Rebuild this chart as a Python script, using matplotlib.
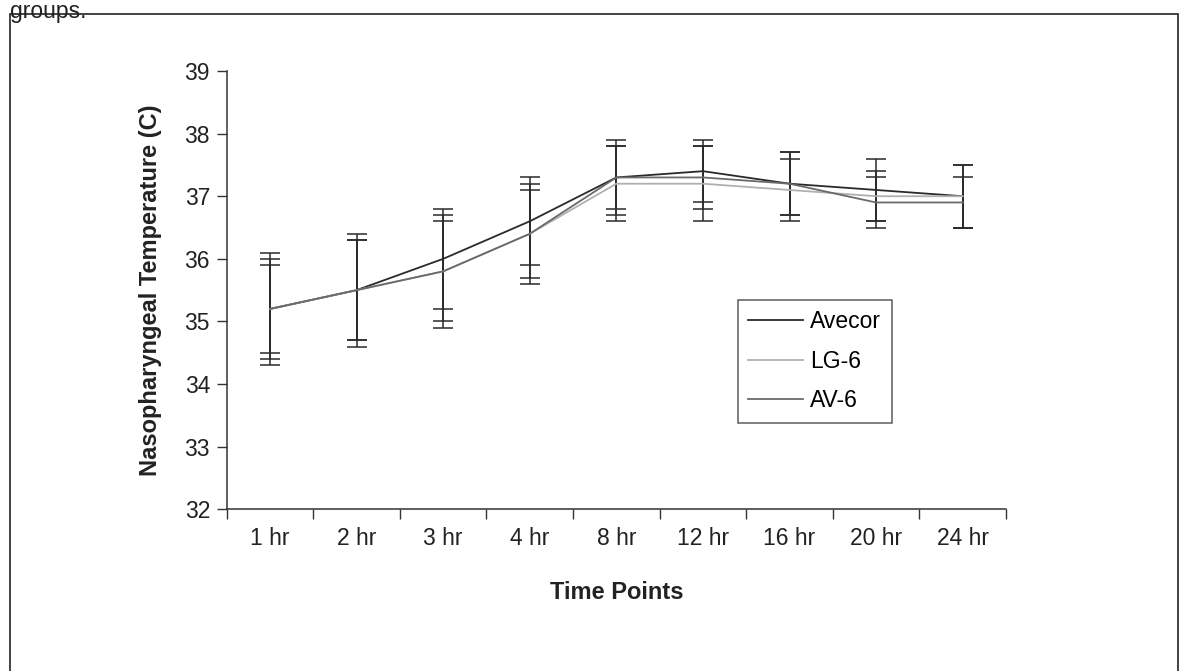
import numpy as np
import matplotlib.pyplot as plt
from matplotlib.patches import Rectangle

plt.rcParams['font.family'] = ['Liberation Sans', 'DejaVu Sans']

time_points = ['1 hr', '2 hr', '3 hr', '4 hr', '8 hr', '12 hr', '16 hr', '20 hr', '24 hr']

avecor = [35.2, 35.5, 36.0, 36.6, 37.3, 37.4, 37.2, 37.1, 37.0]
avecor_sd = [0.9, 0.9, 0.8, 0.7, 0.6, 0.5, 0.5, 0.5, 0.5]

lg6 = [35.2, 35.5, 35.8, 36.4, 37.2, 37.2, 37.1, 37.0, 37.0]
lg6_sd = [0.8, 0.8, 0.9, 0.8, 0.6, 0.6, 0.5, 0.4, 0.5]

av6 = [35.2, 35.5, 35.8, 36.4, 37.3, 37.3, 37.2, 36.9, 36.9]
av6_sd = [0.7, 0.8, 0.8, 0.7, 0.5, 0.5, 0.5, 0.4, 0.4]

W, H = 1180, 671
fig = plt.figure(figsize=(W / 100, H / 100), dpi=100)
ax = fig.add_axes([226.7 / W, 1 - 509.3 / H, (1006 - 226.7) / W, (509.3 - 71) / H])

# outer frame of the scanned page figure
fig.patches.append(Rectangle((10 / W, -0.05), 1168 / W, 1.05 - 14 / H,
                             transform=fig.transFigure, fill=False,
                             edgecolor='#222222', linewidth=1.2))
fig.text(10 / W, 1.0, 'groups.', fontsize=16.5, color='#222222',
         ha='left', va='top')

x = np.arange(len(time_points))
series = [('Avecor', avecor, avecor_sd, '#2a2a2a'),
          ('LG-6', lg6, lg6_sd, '#b0b0b0'),
          ('AV-6', av6, av6_sd, '#6a6a6a')]

for name, vals, sd, col in series:
    ax.errorbar(x, vals, yerr=sd, fmt='none', ecolor='#2a2a2a',
                elinewidth=1.1, capsize=7, capthick=1.1)
for name, vals, sd, col in series:
    ax.plot(x, vals, color=col, linewidth=1.3, label=name)

ax.set_xlim(-0.5, len(time_points) - 0.5)
ax.set_ylim(32, 39)
ax.set_yticks(range(32, 40))
ax.set_xticks(x)
ax.set_xticklabels(time_points)
ax.set_xticks(np.arange(-0.5, len(time_points)), minor=True)
ax.tick_params(axis='x', which='major', length=0, pad=13, labelsize=16.5,
               labelcolor='#222222')
ax.tick_params(axis='x', which='minor', length=7, width=1, color='#333333')
ax.tick_params(axis='y', length=7, width=1, color='#333333', labelsize=16.5,
               labelcolor='#222222', pad=5)

for side in ['top', 'right']:
    ax.spines[side].set_visible(False)
for side in ['left', 'bottom']:
    ax.spines[side].set_color('#333333')
    ax.spines[side].set_linewidth(1.1)

ax.set_ylabel('Nasopharyngeal Temperature (C)', fontsize=17, fontweight='bold',
              color='#222222', labelpad=16)
ax.set_xlabel('Time Points', fontsize=17, fontweight='bold', color='#222222',
              labelpad=22)

leg = ax.legend(loc='upper left', bbox_to_anchor=(738 / W, 1 - 300 / H),
                bbox_transform=fig.transFigure, fontsize=16.5, frameon=True,
                fancybox=False, edgecolor='#333333', handlelength=2.4,
                handletextpad=0.3, labelspacing=0.72, borderpad=0.45,
                borderaxespad=0)
leg.get_frame().set_linewidth(1.1)

fig.savefig('out.png', dpi=100)
